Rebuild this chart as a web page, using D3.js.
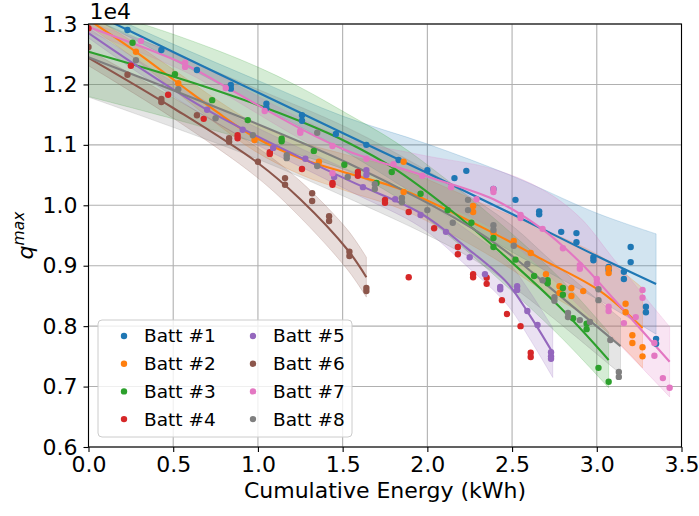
<!DOCTYPE html>
<meta charset="utf-8">
<title>q max vs cumulative energy</title>
<script src="https://d3js.org/d3.v7.min.js"></script>
<style>
  body { margin: 0; background: #fff; }
  svg text { font-family: "DejaVu Sans", sans-serif; fill: #000; }
</style>
<body>
<div id="chart"></div>
<script>

// battery names and tab10 colours
var battNames = ["Batt #1", "Batt #2", "Batt #3", "Batt #4", "Batt #5", "Batt #6", "Batt #7", "Batt #8"];
var battColors = ["#1f77b4", "#ff7f0e", "#2ca02c", "#d62728", "#9467bd", "#8c564b", "#e377c2", "#7f7f7f"];

var xTicks = [0, 0.5, 1.0, 1.5, 2.0, 2.5, 3.0, 3.5];
var yTicks = [6000, 7000, 8000, 9000, 10000, 11000, 12000, 13000];

// measured points: [energy kWh, qmax]
var b1Pts = [[0.23,12900],[0.43,12570],[0.64,12240],[0.84,11990],[0.84,11930],[1.05,11680],[1.05,11610],
  [1.26,11490],[1.26,11400],[1.46,11180],[1.64,11000],[1.83,10750],[2.00,10580],[2.16,10450],[2.23,10570],
  [2.39,10270],[2.52,10090],[2.66,9900],[2.66,9850],[2.79,9560],[2.88,9540],[2.88,9390],[2.98,9140],[2.98,9090],
  [3.07,8980],[3.07,8930],[3.16,8900],[3.16,8780],[3.20,9310],[3.20,9060],[3.29,8320],[3.29,8230],[3.35,7790],[3.35,7710]];
var b2Pts = [[0.28,12540],[0.53,12020],[0.98,11080],[1.36,10720],[1.86,10720],[1.86,10220],[2.27,9990],[2.27,9890],
  [2.39,9540],[2.51,9410],[2.61,9210],[2.70,8860],[2.78,8660],[2.78,8550],[2.85,8630],[2.85,8500],[2.92,8580],
  [3.07,8960],[3.07,8880],[3.17,8370],[3.17,8230],[3.21,7850],[3.21,7720],[3.27,7650],[3.27,7500]];
var b3Pts = [[0.26,12690],[0.51,12170],[0.73,11740],[0.94,11410],[1.14,11100],[1.14,11060],[1.33,10900],[1.51,10670],
  [1.70,10370],[1.79,10550],[1.96,10190],[2.12,9920],[2.26,9710],[2.39,9460],[2.39,9310],[2.52,9100],[2.63,8830],
  [2.71,8760],[2.71,8710],[2.80,8630],[2.80,8520],[2.86,8130],[2.94,8040],[2.94,7950],[3.01,7310],[3.07,7080]];
var b4Pts = [[0.00,12930],[0.25,12310],[0.47,11830],[0.68,11430],[0.88,11160],[0.88,11110],[1.07,10880],[1.07,10850],
  [1.26,10600],[1.44,10370],[1.44,10340],[1.59,10550],[1.59,10490],[1.75,10090],[1.75,10040],[1.89,9890],[2.04,9620],
  [2.18,9310],[2.18,9190],[1.89,8810],[2.27,8860],[2.27,8810],[2.35,8800],[2.35,8700],[2.44,8430],[2.47,8200],
  [2.55,8000],[2.61,7560],[2.61,7490]];
var b5Pts = [[0.70,11580],[0.91,11250],[1.09,10950],[1.28,10770],[1.45,10470],[1.64,10580],[1.64,10500],[1.62,10300],
  [1.81,10100],[1.96,9840],[2.11,9560],[2.25,9140],[2.34,8860],[2.43,8650],[2.43,8610],[2.53,8660],[2.53,8600],
  [2.59,8250],[2.65,8020],[2.73,7570],[2.73,7500],[2.73,7460]];
var b6Pts = [[0.00,12620],[0.23,12160],[0.43,11760],[0.43,11710],[0.64,11490],[0.83,11110],[0.83,11050],[1.00,10720],
  [1.16,10450],[1.16,10340],[1.32,10200],[1.32,10070],[1.42,9820],[1.42,9740],[1.54,9230],[1.54,9160],[1.64,8630],[1.64,8580]];
var b7Pts = [[0.31,12720],[0.57,12360],[0.57,12290],[0.81,11940],[1.04,11560],[1.25,11230],[1.25,11200],[1.44,10980],
  [1.44,10530],[1.64,10770],[1.80,10680],[1.97,10490],[2.14,10300],[2.39,10270],[2.39,10220],[2.29,10100],[2.55,9840],
  [2.55,9790],[2.68,9610],[2.80,9290],[2.90,9010],[2.90,8950],[3.00,8780],[3.00,8710],[3.07,8320],[3.07,8250],
  [3.16,8050],[3.23,8150],[3.27,8600],[3.27,8470],[3.34,7720],[3.34,7510],[3.39,7140],[3.43,6980]];
var b8Pts = [[0.28,12400],[0.53,11920],[0.75,11440],[0.97,11160],[1.17,10830],[1.17,10780],[1.35,11200],[1.35,10650],
  [1.53,10470],[1.69,10350],[1.69,10270],[1.85,10120],[1.85,10050],[2.00,9920],[2.15,9710],[2.24,10090],[2.24,9920],
  [2.39,9670],[2.39,9590],[2.51,9330],[2.59,9030],[2.68,8760],[2.75,8480],[2.75,8420],[2.83,8220],[2.83,8150],
  [2.90,8100],[2.96,8070],[3.01,8610],[3.01,8430],[3.08,7770],[3.13,7240],[3.13,7160]];

// fitted mean and spread: [energy, mean, half width]
var b1Fit = [[0,13215,80],[0.5,12537,130],[1.0,11866,200],[1.5,11196,280],[2.0,10534,480],[2.5,9856,630],[3.0,9160,710],[3.35,8697,830]];
var b2Fit = [[0,13070,100],[0.28,12540,130],[0.53,12020,170],[0.76,11540,200],[0.98,11130,230],[1.25,10780,270],[1.53,10530,300],
  [1.86,10250,330],[2.39,9540,410],[2.66,9130,500],[3.02,8580,580],[3.27,7970,660]];
var b3Fit = [[0,12540,740],[0.5,12130,700],[0.94,11720,640],[1.25,11390,560],[1.53,11040,470],[1.81,10600,450],
  [2.12,9960,450],[2.40,9300,470],[2.78,8320,480],[3.07,7440,460]];
var b4Fit = [];
var b5Fit = [[0,12850,80],[0.70,11580,130],[1.53,10420,170],[1.96,9870,230],[2.23,9300,300],[2.47,8720,360],[2.60,8200,390],[2.74,7560,410]];
var b6Fit = [[0,12440,130],[0.50,11610,170],[1.00,10700,250],[1.25,10100,300],[1.53,9260,330],[1.64,8810,330]];
var b7Fit = [[0,12950,80],[0.57,12330,120],[0.81,11960,130],[1.25,11270,170],[1.53,10900,200],[1.97,10500,330],
  [2.39,10100,500],[2.68,9600,660],[2.90,9060,740],[3.10,8450,660],[3.43,7410,580]];
var b8Fit = [[0,12450,660],[0.94,11410,580],[1.53,10700,580],[2.00,10040,530],[2.31,9540,500],[2.51,9140,500],[2.74,8600,460],[3.14,7670,460]];

var allPts = [b1Pts, b2Pts, b3Pts, b4Pts, b5Pts, b6Pts, b7Pts, b8Pts];
var allFits = [b1Fit, b2Fit, b3Fit, b4Fit, b5Fit, b6Fit, b7Fit, b8Fit];

var series = battNames.map(function(name, i) {
  return {name: name, color: battColors[i], pts: allPts[i], fit: allFits[i]};
});

// layout
var W = 699, H = 516;
var margin = {top: 24, right: 17.5, bottom: 69, left: 88.5},
    width = W - margin.left - margin.right,
    height = H - margin.top - margin.bottom;

var svg = d3.select("#chart").append("svg")
    .attr("width", W)
    .attr("height", H);

var g = svg.append("g")
    .attr("transform", "translate(" + margin.left + "," + margin.top + ")");

var x = d3.scaleLinear().domain([0, 3.5]).range([0, width]);
var y = d3.scaleLinear().domain([6000, 13000]).range([height, 0]);

svg.append("defs").append("clipPath").attr("id", "plotclip")
  .append("rect").attr("width", width).attr("height", height);

// grid
g.append("g").selectAll("line").data(xTicks).enter().append("line")
    .attr("x1", function(d) { return x(d); }).attr("x2", function(d) { return x(d); })
    .attr("y1", 0).attr("y2", height)
    .attr("stroke", "#b0b0b0").attr("stroke-width", 1.1);
g.append("g").selectAll("line").data(yTicks).enter().append("line")
    .attr("y1", function(d) { return y(d); }).attr("y2", function(d) { return y(d); })
    .attr("x1", 0).attr("x2", width)
    .attr("stroke", "#b0b0b0").attr("stroke-width", 1.1);

var plot = g.append("g").attr("clip-path", "url(#plotclip)");

var band = d3.area()
    .x(function(d) { return x(d[0]); })
    .y0(function(d) { return y(d[1] - d[2]); })
    .y1(function(d) { return y(d[1] + d[2]); })
    .curve(d3.curveCatmullRom.alpha(0.5));

var mean = d3.line()
    .x(function(d) { return x(d[0]); })
    .y(function(d) { return y(d[1]); })
    .curve(d3.curveCatmullRom.alpha(0.5));

// bands first, then fitted lines, then the points
series.forEach(function(s) {
  if (!s.fit.length) return;
  plot.append("path")
      .datum(s.fit)
      .attr("d", band)
      .attr("fill", s.color)
      .attr("fill-opacity", 0.2)
      .attr("stroke", s.color)
      .attr("stroke-opacity", 0.2)
      .attr("stroke-width", 1);
});
series.forEach(function(s) {
  if (!s.fit.length) return;
  plot.append("path")
      .datum(s.fit)
      .attr("d", mean)
      .attr("fill", "none")
      .attr("stroke", s.color)
      .attr("stroke-width", 2.1);
});
series.forEach(function(s) {
  plot.append("g").selectAll("circle")
      .data(s.pts)
      .enter().append("circle")
      .attr("cx", function(d) { return x(d[0]); })
      .attr("cy", function(d) { return y(d[1]); })
      .attr("r", 3.2)
      .attr("fill", s.color);
});

// axes
var xAxis = g.append("g")
    .attr("transform", "translate(0," + height + ")")
    .call(d3.axisBottom(x).tickValues(xTicks).tickSize(5).tickPadding(4.5)
      .tickFormat(d3.format(".1f")));
var yAxis = g.append("g")
    .call(d3.axisLeft(y).tickValues(yTicks).tickSize(5).tickPadding(6)
      .tickFormat(function(d) { return (d / 1e4).toFixed(1); }));

[xAxis, yAxis].forEach(function(a) {
  a.select(".domain").remove();
  a.selectAll(".tick line").attr("stroke", "#000").attr("stroke-width", 1.1);
  a.selectAll(".tick text").attr("font-size", "22px").attr("font-family", "DejaVu Sans");
});

// frame
g.append("rect")
    .attr("width", width).attr("height", height)
    .attr("fill", "none").attr("stroke", "#000").attr("stroke-width", 1.1);

// offset text
svg.append("text")
    .attr("x", margin.left + 1)
    .attr("y", 19)
    .attr("font-size", "22px")
    .text("1e4");

// axis labels
svg.append("text")
    .attr("x", margin.left + width / 2)
    .attr("y", 498)
    .attr("text-anchor", "middle")
    .attr("font-size", "22px")
    .text("Cumulative Energy (kWh)");

var yl = svg.append("text")
    .attr("transform", "translate(33," + (margin.top + height / 2) + ") rotate(-90)")
    .attr("text-anchor", "middle")
    .attr("font-size", "22px")
    .attr("font-style", "italic");
yl.append("tspan").text("q");
yl.append("tspan").attr("font-size", "15.5px").attr("dy", "-9").text("max");

// legend
var leg = svg.append("g").attr("transform", "translate(98,320)");
leg.append("rect")
    .attr("width", 254).attr("height", 117)
    .attr("rx", 4).attr("ry", 4)
    .attr("fill", "#fff").attr("fill-opacity", 0.8)
    .attr("stroke", "#cccccc").attr("stroke-width", 1);

var entry = leg.selectAll(".entry").data(series).enter().append("g")
    .attr("transform", function(d, i) {
      var col = Math.floor(i / 4), row = i % 4;
      return "translate(" + (26 + col * 129) + "," + (16 + row * 27.7) + ")";
    });
entry.append("circle").attr("r", 3.2).attr("fill", function(d) { return d.color; });
entry.append("text")
    .attr("x", 20)
    .attr("dy", "0.35em")
    .attr("font-size", "18.5px")
    .text(function(d) { return d.name; });

</script>
</body>
